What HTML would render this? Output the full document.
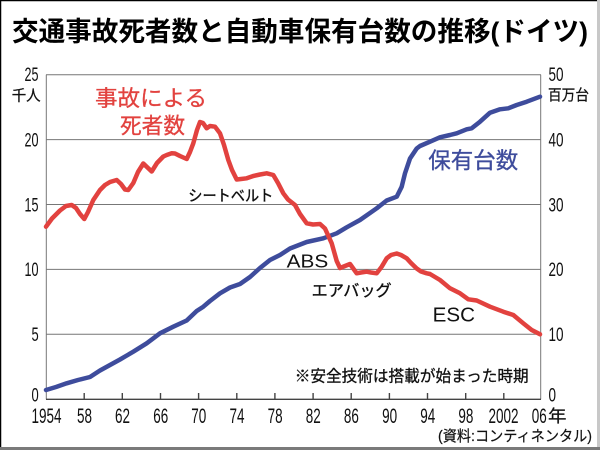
<!DOCTYPE html>
<html>
<head>
<meta charset="utf-8">
<style>
html,body{margin:0;padding:0;background:#fff;}
body{width:600px;height:450px;overflow:hidden;}
svg{display:block;}
text{font-family:"Liberation Sans","Noto Sans CJK JP",sans-serif;}
</style>
</head>
<body>
<svg width="600" height="450" viewBox="0 0 600 450" xmlns="http://www.w3.org/2000/svg">
  <rect x="0" y="0" width="600" height="450" fill="#fff"/>
  <!-- frame -->
  <line x1="0.5" y1="0" x2="0.5" y2="450" stroke="#000" stroke-width="1.5"/>
  <line x1="0" y1="0.5" x2="600" y2="0.5" stroke="#000" stroke-width="1.5"/>
  <rect x="597" y="0" width="3" height="450" fill="#c8c8c8"/>
  <rect x="0" y="447" width="600" height="3" fill="#7a7a7a"/>

  <!-- title -->
  <text x="12" y="41" font-size="27" font-weight="bold" fill="#000" textLength="576" lengthAdjust="spacingAndGlyphs">交通事故死者数と自動車保有台数の推移(ドイツ)</text>

  <!-- gridlines -->
  <g stroke="#777" stroke-width="1">
    <line x1="46" y1="74.7" x2="541" y2="74.7"/>
    <line x1="46" y1="139.6" x2="541" y2="139.6"/>
    <line x1="46" y1="204.5" x2="541" y2="204.5"/>
    <line x1="46" y1="269.4" x2="541" y2="269.4"/>
    <line x1="46" y1="334.3" x2="541" y2="334.3"/>
    <line x1="46.3" y1="74.7" x2="46.3" y2="399.3"/>
    <line x1="540.7" y1="74.7" x2="540.7" y2="399.3"/>
  </g>
  <line x1="46" y1="399.3" x2="541" y2="399.3" stroke="#444" stroke-width="1.4"/>
  <!-- ticks -->
  <g stroke="#444" stroke-width="1.4">
    <line x1="84.2" y1="393" x2="84.2" y2="399"/>
    <line x1="122.3" y1="393" x2="122.3" y2="399"/>
    <line x1="160.5" y1="393" x2="160.5" y2="399"/>
    <line x1="198.6" y1="393" x2="198.6" y2="399"/>
    <line x1="236.8" y1="393" x2="236.8" y2="399"/>
    <line x1="274.9" y1="393" x2="274.9" y2="399"/>
    <line x1="313.1" y1="393" x2="313.1" y2="399"/>
    <line x1="351.2" y1="393" x2="351.2" y2="399"/>
    <line x1="389.4" y1="393" x2="389.4" y2="399"/>
    <line x1="427.5" y1="393" x2="427.5" y2="399"/>
    <line x1="465.7" y1="393" x2="465.7" y2="399"/>
    <line x1="503.8" y1="393" x2="503.8" y2="399"/>
  </g>

  <!-- left axis labels -->
  <g font-size="19" fill="#111">
    <text x="24.5" y="81" textLength="14" lengthAdjust="spacingAndGlyphs">25</text>
    <text x="24.5" y="146.5" textLength="14" lengthAdjust="spacingAndGlyphs">20</text>
    <text x="24.5" y="211.3" textLength="14" lengthAdjust="spacingAndGlyphs">15</text>
    <text x="24.5" y="276.2" textLength="14" lengthAdjust="spacingAndGlyphs">10</text>
    <text x="31.5" y="341.2" textLength="7.2" lengthAdjust="spacingAndGlyphs">5</text>
    <text x="31.5" y="401.5" textLength="7.2" lengthAdjust="spacingAndGlyphs">0</text>
  </g>
  <text x="11.7" y="100.7" font-size="15" fill="#111" stroke="#111" stroke-width="0.25" textLength="29" lengthAdjust="spacingAndGlyphs">千人</text>

  <!-- right axis labels -->
  <g font-size="19" fill="#111">
    <text x="548.5" y="81" textLength="15" lengthAdjust="spacingAndGlyphs">50</text>
    <text x="548.5" y="146.5" textLength="15" lengthAdjust="spacingAndGlyphs">40</text>
    <text x="548.5" y="211.3" textLength="15" lengthAdjust="spacingAndGlyphs">30</text>
    <text x="548.5" y="276.2" textLength="15" lengthAdjust="spacingAndGlyphs">20</text>
    <text x="548.5" y="341.2" textLength="15" lengthAdjust="spacingAndGlyphs">10</text>
    <text x="548.5" y="401.5" textLength="7.5" lengthAdjust="spacingAndGlyphs">0</text>
  </g>
  <text x="548" y="100.2" font-size="15" fill="#111" stroke="#111" stroke-width="0.25" textLength="41" lengthAdjust="spacingAndGlyphs">百万台</text>

  <!-- x axis labels -->
  <g font-size="21" fill="#111" text-anchor="middle">
    <text x="46.5" y="423" textLength="30" lengthAdjust="spacingAndGlyphs">1954</text>
    <text x="84.5" y="423" textLength="15" lengthAdjust="spacingAndGlyphs">58</text>
    <text x="122.5" y="423" textLength="15" lengthAdjust="spacingAndGlyphs">62</text>
    <text x="160.7" y="423" textLength="15" lengthAdjust="spacingAndGlyphs">66</text>
    <text x="198.8" y="423" textLength="15" lengthAdjust="spacingAndGlyphs">70</text>
    <text x="237" y="423" textLength="15" lengthAdjust="spacingAndGlyphs">74</text>
    <text x="275.1" y="423" textLength="15" lengthAdjust="spacingAndGlyphs">78</text>
    <text x="313.3" y="423" textLength="15" lengthAdjust="spacingAndGlyphs">82</text>
    <text x="351.4" y="423" textLength="15" lengthAdjust="spacingAndGlyphs">86</text>
    <text x="389.6" y="423" textLength="15" lengthAdjust="spacingAndGlyphs">90</text>
    <text x="427.7" y="423" textLength="15" lengthAdjust="spacingAndGlyphs">94</text>
    <text x="465.9" y="423" textLength="15" lengthAdjust="spacingAndGlyphs">98</text>
    <text x="503.5" y="423" textLength="30" lengthAdjust="spacingAndGlyphs">2002</text>
    <text x="539.2" y="423" textLength="15" lengthAdjust="spacingAndGlyphs">06</text>
  </g>
  <text x="548" y="422" font-size="17" fill="#111" stroke="#111" stroke-width="0.25" textLength="18.5" lengthAdjust="spacingAndGlyphs">年</text>

  <text x="438" y="441" font-size="15" fill="#111" stroke="#111" stroke-width="0.2" textLength="154" lengthAdjust="spacingAndGlyphs">(資料:コンティネンタル)</text>
  <text x="294.7" y="381.5" font-size="16" fill="#111" stroke="#111" stroke-width="0.3" textLength="234" lengthAdjust="spacingAndGlyphs">※安全技術は搭載が始まった時期</text>

  <!-- blue series -->
  <polyline fill="none" stroke="#3e4c9c" stroke-width="4.5" stroke-linejoin="round" stroke-linecap="round"
    points="46,390 56,387 66.7,383.3 78,380 90,377 100,370.5 110,365 120,359.5 133.3,351.7 146.7,343.3 160,333.3 173.3,326.7 186.7,320.5 196.7,311 203.3,306.7 210,301 220,293.3 230,287.5 240,284 250,277 260,268 270,260 280,255 290,248.5 306.7,242 323.3,238.3 336.7,233.3 346.7,227.3 360,220 376.7,208.3 386.7,200.5 396.7,196.7 401.7,186.7 405,173.3 410,158.5 416.7,148.5 420,146 430,141.7 440,137.3 450,135 456.7,133.3 466.7,129.3 471.7,128.3 480,121.7 490,112.7 500,109.3 508.3,108.3 516.7,105 526.7,101.7 540,96.7"/>

  <!-- red series -->
  <polyline fill="none" stroke="#e2423f" stroke-width="4.5" stroke-linejoin="round" stroke-linecap="round"
    points="46,226.7 52,218.5 60,210.5 66,206 71.7,205 76,208 80,214 84.3,219 88,212 93.3,200 100,190 105,185 110,182 116.7,180 121,184 125,189.5 128.3,190 133.3,183 138,172 143.3,163.5 148,168 151.7,171.5 157,163 163.3,156.5 166.7,155 171.7,153.3 175,153.5 180,156 186.7,159 190,152 193.3,143.3 197,130 200,122 203,123 206.7,128.3 210,126 215,126.7 220,133.3 224,145 228.3,160 232,170 236.7,179.5 241,179 246.7,178.3 253.3,176 260,174.5 266.7,173.3 273.3,175 278,183 283.3,193.3 288,199.5 295,205 300,214 306.7,223.3 313,224.5 320,224 325,228.5 331.7,243.3 336.7,261 340,268 345,266 350,264 356.7,273.3 361,272.5 366.7,271.7 371,272.5 376.7,273.3 381.7,266.7 386.7,258.3 391,255 396.7,253.5 401,255 406.7,258.3 411,263 416.7,268.5 421,271.5 426.7,273.3 430,274 440,280 450,288.3 460,293.3 468.3,299.3 476.7,300.5 490,306.7 503.3,311.7 513.3,315 523.3,323.3 531.7,330 540,334.3"/>

  <!-- series labels -->
  <text x="95" y="105.9" font-size="22" fill="#e2423f" stroke="#e2423f" stroke-width="0.3" textLength="112" lengthAdjust="spacingAndGlyphs">事故による</text>
  <text x="120" y="133.4" font-size="22" fill="#e2423f" stroke="#e2423f" stroke-width="0.3" textLength="65" lengthAdjust="spacingAndGlyphs">死者数</text>
  <text x="428.3" y="168.5" font-size="22.5" fill="#3e4c9c" stroke="#3e4c9c" stroke-width="0.3" textLength="90" lengthAdjust="spacingAndGlyphs">保有台数</text>

  <!-- annotations -->
  <text x="188.3" y="201" font-size="15.5" fill="#111" stroke="#111" stroke-width="0.35" textLength="85" lengthAdjust="spacingAndGlyphs">シートベルト</text>
  <text x="286.7" y="267.3" font-size="18" fill="#111" textLength="41.6" lengthAdjust="spacingAndGlyphs">ABS</text>
  <text x="311.7" y="296" font-size="16" fill="#111" stroke="#111" stroke-width="0.35" textLength="80" lengthAdjust="spacingAndGlyphs">エアバッグ</text>
  <text x="432.7" y="321.7" font-size="20" fill="#111" textLength="42.3" lengthAdjust="spacingAndGlyphs">ESC</text>
</svg>
</body>
</html>
